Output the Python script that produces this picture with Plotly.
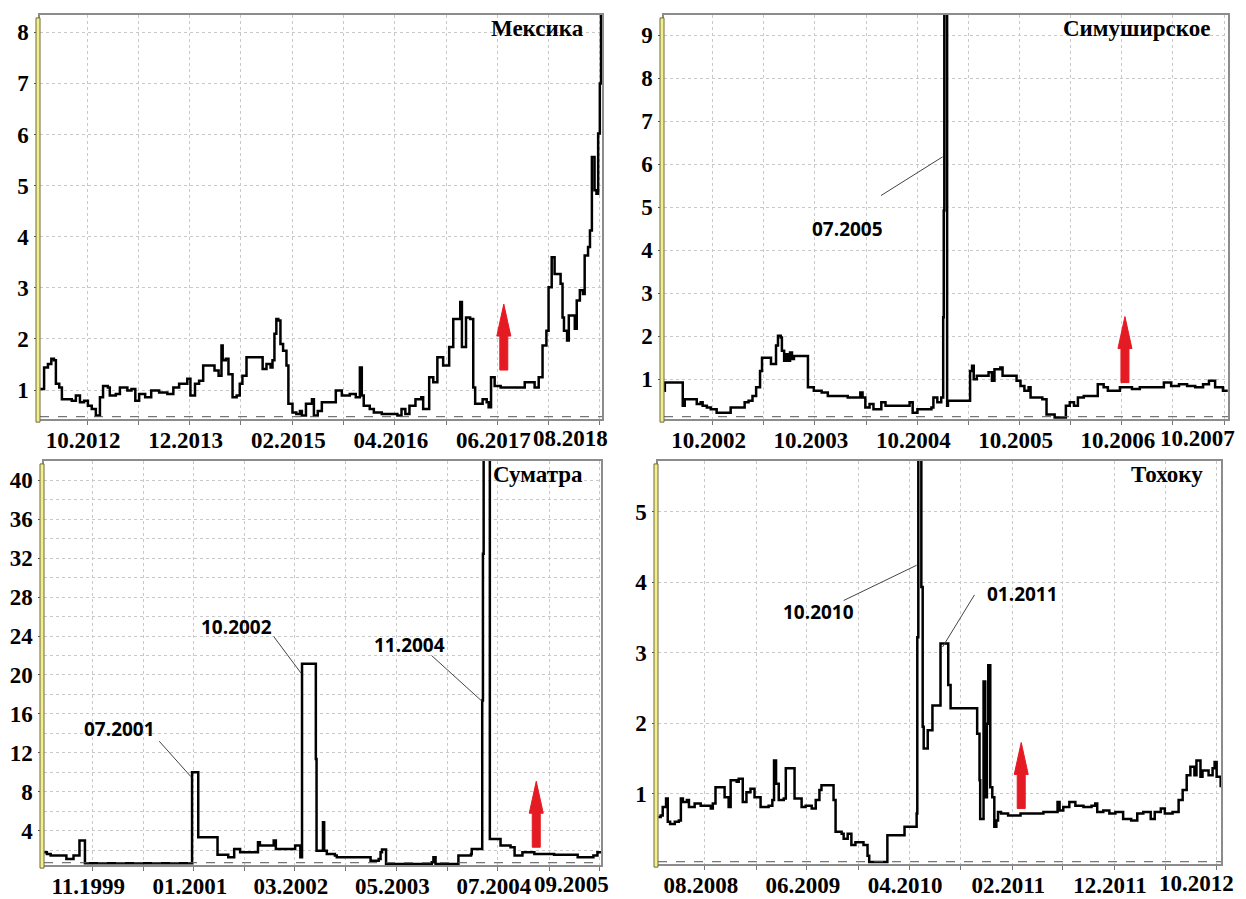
import plotly.graph_objects as go

W, H = 1246, 899

# ---------------- data: Мексика ----------------
mex_dates = ["2012-03-20","2012-04-05","2012-04-21","2012-05-05","2012-05-16","2012-05-24","2012-06-07","2012-06-18",
             "2012-07-13","2012-07-29","2012-08-15","2012-09-01","2012-09-18","2012-10-04","2012-10-20","2012-11-06",
             "2012-11-23","2012-12-06","2012-12-26","2013-01-03","2013-01-28","2013-02-14","2013-03-17","2013-04-03",
             "2013-04-19","2013-05-05","2013-05-30","2013-06-24","2013-07-27","2013-08-30","2013-09-24","2013-10-18",
             "2013-11-21","2013-12-04","2013-12-23","2014-01-09","2014-01-26","2014-02-28","2014-03-14","2014-03-31",
             "2014-04-12","2014-04-17","2014-04-30","2014-05-11","2014-05-28","2014-06-14","2014-06-27","2014-07-08",
             "2014-07-25","2014-09-13","2014-09-30","2014-10-16","2014-11-02","2014-11-10","2014-11-18","2014-11-26",
             "2014-12-04","2014-12-13","2014-12-24","2015-01-07","2015-01-15","2015-02-01","2015-02-17","2015-03-04",
             "2015-03-12","2015-03-29","2015-04-23","2015-05-01","2015-05-17","2015-06-03","2015-07-06","2015-07-31",
             "2015-08-25","2015-09-27","2015-10-22","2015-11-08","2015-11-16","2015-11-24","2015-12-19","2016-01-05",
             "2016-02-07","2016-03-10","2016-04-12","2016-04-29","2016-05-15","2016-06-01","2016-06-26","2016-07-20",
             "2016-07-28","2016-08-14","2016-08-22","2016-09-08","2016-09-25","2016-10-19","2016-11-05","2016-11-13",
             "2016-11-30","2016-12-24","2016-12-29","2017-01-05","2017-01-15","2017-01-22","2017-02-08","2017-02-21",
             "2017-03-01","2017-03-16","2017-04-01","2017-04-18","2017-04-26","2017-05-06","2017-05-21","2017-06-15",
             "2017-08-04","2017-09-23","2017-10-26","2017-11-03","2017-11-20","2017-12-06","2017-12-22","2017-12-31",
             "2018-01-13","2018-01-25","2018-02-11","2018-02-19","2018-02-27","2018-03-05","2018-03-18","2018-03-25",
             "2018-04-08","2018-04-19","2018-04-27","2018-05-10","2018-05-23","2018-05-30","2018-06-13","2018-06-21",
             "2018-06-29","2018-07-10","2018-07-18","2018-07-25","2018-08-01","2018-08-06"]
mex_vals = [1.02,1.44,1.51,1.61,1.58,1.12,1.05,0.82,
            0.82,0.79,0.89,0.76,0.79,0.69,0.63,0.50,
            0.86,1.08,1.05,0.89,0.92,1.05,0.99,1.02,
            0.79,0.92,0.86,0.99,0.95,0.92,1.05,1.12,
            1.22,0.89,1.12,1.18,1.48,1.48,1.38,1.28,
            1.87,1.58,1.61,1.31,0.86,0.89,1.12,1.28,
            1.64,1.64,1.41,1.51,1.44,1.58,2.10,2.39,
            2.36,1.90,1.77,1.48,0.73,0.56,0.53,0.59,
            0.50,0.73,0.82,0.50,0.59,0.76,0.76,0.99,
            0.89,0.92,0.86,1.44,0.89,0.69,0.63,0.56,
            0.53,0.53,0.50,0.63,0.53,0.69,0.82,0.86,
            0.63,0.63,1.25,1.15,1.64,1.48,1.48,1.84,
            2.39,2.39,2.72,1.84,1.84,2.42,2.39,1.05,
            0.73,0.73,0.82,0.76,0.66,1.25,1.08,1.05,
            1.05,1.15,1.15,1.05,1.25,1.87,2.16,3.01,
            3.60,3.27,3.27,3.08,2.42,2.16,1.97,2.46,
            2.46,2.20,2.75,2.95,2.88,3.63,3.80,4.12,
            5.56,4.91,4.84,6.02,7.00,8.44]
mex_xlabels = ["10.2012", "12.2013", "02.2015", "04.2016", "06.2017", "08.2018"]
mex_yticks = [1, 2, 3, 4, 5, 6, 7, 8]
mex_event = ("2017-06-28", 1.39)

# ---------------- data: Симуширское ----------------
sim_dates = ["2002-04-11","2002-04-13","2002-06-13","2002-06-16","2002-06-23","2002-07-28","2002-08-05","2002-08-19",
             "2002-08-26","2002-09-10","2002-09-24","2002-10-15","2002-11-27","2002-12-04","2003-01-16","2003-01-23",
             "2003-02-06","2003-02-20","2003-03-05","2003-03-19","2003-03-26","2003-04-24","2003-04-27","2003-05-08",
             "2003-05-15","2003-05-22","2003-06-01","2003-06-05","2003-06-13","2003-06-20","2003-06-27","2003-07-04",
             "2003-07-11","2003-07-18","2003-08-30","2003-09-06","2003-09-27","2003-10-25","2003-11-16","2004-01-19",
             "2004-01-26","2004-03-01","2004-03-11","2004-03-19","2004-03-29","2004-04-13","2004-04-27","2004-05-25",
             "2004-06-09","2004-08-05","2004-09-03","2004-09-14","2004-10-01","2004-11-20","2004-11-27","2004-12-11",
             "2004-12-25","2005-01-01","2005-01-03","2005-01-05","2005-01-15","2005-01-18","2005-01-30","2005-04-03",
             "2005-04-07","2005-04-14","2005-04-20","2005-05-01","2005-05-29","2005-06-12","2005-06-24","2005-07-03",
             "2005-07-17","2005-07-24","2005-08-01","2005-09-13","2005-09-20","2005-10-04","2005-10-18","2005-11-02",
             "2005-11-09","2005-12-21","2006-01-05","2006-02-03","2006-03-08","2006-03-15","2006-03-29","2006-04-13",
             "2006-04-27","2006-05-18","2006-06-09","2006-07-07","2006-07-28","2006-08-12","2006-09-10","2006-09-24",
             "2006-11-06","2006-12-04","2007-01-16","2007-02-28","2007-03-26","2007-04-23","2007-05-22","2007-06-20",
             "2007-07-18","2007-08-08","2007-08-30","2007-09-27","2007-10-14"]
sim_vals = [0.73,0.92,0.92,0.38,0.53,0.53,0.42,0.46,
            0.38,0.34,0.30,0.22,0.22,0.34,0.34,0.46,
            0.50,0.61,0.81,1.19,1.50,1.50,1.35,1.35,
            1.78,2.01,1.97,1.66,1.43,1.58,1.43,1.62,
            1.47,1.54,1.54,0.81,0.73,0.69,0.61,0.61,
            0.57,0.57,0.69,0.57,0.34,0.42,0.30,0.46,
            0.38,0.38,0.46,0.22,0.30,0.34,0.57,0.46,
            0.57,2.44,4.92,9.80,0.38,0.50,0.50,0.50,
            1.19,1.31,1.00,1.08,1.08,1.16,0.96,1.23,
            1.23,1.27,1.08,1.08,0.96,0.84,0.73,0.81,
            0.57,0.53,0.18,0.11,0.11,0.38,0.46,0.38,
            0.57,0.61,0.61,0.88,0.81,0.73,0.73,0.81,
            0.77,0.81,0.81,0.92,0.84,0.88,0.84,0.81,
            0.88,0.96,0.81,0.73,0.73]
sim_xlabels = ["10.2002", "10.2003", "10.2004", "10.2005", "10.2006", "10.2007"]
sim_yticks = [1, 2, 3, 4, 5, 6, 7, 8, 9]
sim_event = ("2006-10-12", 0.92)

# ---------------- data: Суматра ----------------
sum_dates = ["1999-04-13","1999-04-24","1999-05-10","1999-07-07","1999-07-15","1999-08-09","1999-08-14","1999-09-03",
             "1999-09-08","1999-09-25","1999-10-01","2000-12-19","2000-12-24","2001-01-14","2001-01-19","2001-04-05",
             "2001-04-10","2001-05-16","2001-05-25","2001-06-16","2001-06-19","2001-07-14","2001-09-10","2001-09-27",
             "2001-10-05","2001-11-16","2001-12-02","2001-12-11","2002-02-24","2002-03-02","2002-03-19","2002-03-24",
             "2002-03-31","2002-05-24","2002-05-28","2002-05-31","2002-06-22","2002-06-27","2002-07-02","2002-07-13",
             "2002-08-16","2002-08-24","2003-01-05","2003-01-13","2003-02-16","2003-02-24","2003-03-02","2003-03-19",
             "2003-09-27","2003-10-04","2003-10-13","2004-01-12","2004-01-17","2004-03-10","2004-03-13","2004-04-21",
             "2004-04-26","2004-04-29","2004-05-02","2004-05-23","2004-05-28","2004-07-04","2004-07-12","2004-08-23",
             "2004-09-09","2004-10-12","2004-12-01","2005-02-22","2005-06-01","2005-08-06","2005-08-23","2005-09-07"]
sum_vals = [1.77,1.60,1.43,1.43,1.09,1.09,1.43,1.43,
            2.97,2.97,0.64,0.64,10.0,10.0,3.31,3.31,
            1.53,1.53,1.26,1.26,2.11,1.77,1.77,2.80,
            2.46,2.46,2.97,2.11,2.11,2.46,2.46,1.26,
            21.14,21.14,11.37,1.94,1.94,4.86,1.94,1.60,
            1.43,1.26,1.26,0.91,1.09,1.77,2.06,0.57,
            0.74,1.26,0.57,0.57,1.43,1.60,2.11,2.11,
            17.37,32.45,43.0,43.0,3.14,3.14,2.46,2.29,
            1.43,1.77,1.60,1.53,1.26,1.43,1.77,1.77]
sum_xlabels = ["11.1999", "01.2001", "03.2002", "05.2003", "07.2004", "09.2005"]
sum_yticks = [4, 8, 12, 16, 20, 24, 28, 32, 36, 40]
sum_event = ("2004-12-09", 2.29)

# ---------------- data: Тохоку ----------------
toh_dates = ["2008-03-16","2008-03-23","2008-03-29","2008-04-08","2008-04-13","2008-04-20","2008-05-04","2008-05-16",
             "2008-05-22","2008-05-28","2008-06-09","2008-06-15","2008-07-02","2008-07-20","2008-08-07","2008-08-19",
             "2008-08-25","2008-09-02","2008-09-17","2008-09-29","2008-10-11","2008-10-17","2008-11-04","2008-11-10",
             "2008-11-22","2008-12-03","2008-12-15","2008-12-27","2009-01-14","2009-02-07","2009-02-18","2009-02-23",
             "2009-03-01","2009-03-09","2009-03-24","2009-03-30","2009-04-23","2009-04-25","2009-05-10","2009-05-16",
             "2009-05-28","2009-06-15","2009-06-27","2009-07-08","2009-07-14","2009-08-13","2009-08-19","2009-08-25",
             "2009-09-12","2009-09-18","2009-09-30","2009-10-11","2009-10-23","2009-11-10","2009-11-16","2009-11-28",
             "2009-12-03","2010-01-20","2010-01-26","2010-03-12","2010-03-18","2010-04-17","2010-04-23","2010-04-25",
             "2010-04-28","2010-05-05","2010-05-07","2010-05-11","2010-05-14","2010-05-22","2010-05-26","2010-06-07",
             "2010-06-09","2010-06-27","2010-07-03","2010-07-20","2010-07-26","2010-08-02","2010-10-15","2010-10-20",
             "2010-10-27","2010-10-29","2010-11-06","2010-11-08","2010-11-13","2010-11-18","2010-11-22","2010-11-28",
             "2010-12-04","2010-12-10","2010-12-16","2010-12-21","2010-12-30","2011-01-20","2011-02-02","2011-02-26",
             "2011-04-12","2011-05-05","2011-06-10","2011-06-16","2011-06-22","2011-07-03","2011-07-21","2011-08-08",
             "2011-09-01","2011-09-25","2011-10-06","2011-10-12","2011-10-30","2011-11-17","2011-12-05","2011-12-28",
             "2012-01-21","2012-02-08","2012-02-26","2012-03-08","2012-03-19","2012-03-31","2012-04-18","2012-04-30",
             "2012-05-23","2012-06-10","2012-06-22","2012-07-04","2012-07-15","2012-07-27","2012-08-02","2012-08-14",
             "2012-08-20","2012-09-07","2012-09-19","2012-09-25","2012-10-01","2012-10-13"]
toh_vals = [0.67,0.69,0.81,0.93,0.60,0.57,0.60,0.62,
            0.93,0.88,0.91,0.81,0.86,0.83,0.83,0.79,
            0.86,1.09,1.09,0.95,0.81,1.19,1.17,1.21,
            0.88,1.02,1.07,0.95,0.81,0.83,0.91,1.47,
            1.14,0.91,0.93,1.36,1.36,0.93,0.93,0.81,
            0.83,0.79,0.91,1.05,1.12,1.12,0.91,0.46,
            0.43,0.36,0.43,0.27,0.31,0.31,0.27,0.12,
            0.03,0.03,0.41,0.41,0.53,0.53,0.72,3.22,
            6.00,6.00,3.93,1.95,1.64,1.64,1.90,1.90,
            2.25,2.25,3.13,3.13,2.54,2.21,2.21,1.85,
            1.19,0.64,0.64,2.59,0.95,1.99,2.82,1.09,
            0.95,0.53,0.62,0.74,0.72,0.69,0.69,0.72,
            0.72,0.74,0.74,0.88,0.76,0.81,0.88,0.83,
            0.81,0.83,0.86,0.74,0.76,0.72,0.74,0.64,
            0.62,0.72,0.74,0.74,0.64,0.74,0.79,0.72,
            0.74,0.91,1.05,1.26,1.38,1.26,1.47,1.24,
            1.33,1.26,1.36,1.45,1.24,1.09]
toh_xlabels = ["08.2008", "06.2009", "04.2010", "02.2011", "12.2011", "10.2012"]
toh_yticks = [1, 2, 3, 4, 5]
toh_event = ("2011-02-28", 0.79)


def label_to_date(s):
    return f"{s[3:]}-{s[:2]}-01"


# ---------------- layout geometry / styling (pixels) ----------------
panels = [
    dict(name="Мексика", dates=mex_dates, vals=mex_vals, xl=mex_xlabels, yt=mex_yticks, ev=mex_event,
         box=(40, 602, 15, 421), xr=["2012-03-19", "2018-08-10"], yr=[0.43, 8.34],
         minor="M7", yminor=None, lastshift=10),
    dict(name="Симуширское", dates=sim_dates, vals=sim_vals, xl=sim_xlabels, yt=sim_yticks, ev=sim_event,
         box=(664, 1228, 15, 421), xr=["2002-04-10", "2007-10-15"], yr=[0.07, 9.47],
         minor="M6", yminor=None, lastshift=13),
    dict(name="Суматра", dates=sum_dates, vals=sum_vals, xl=sum_xlabels, yt=sum_yticks, ev=sum_event,
         box=(44, 601, 463, 869), xr=["1999-04-12", "2005-09-07"], yr=[0.45, 42.0],
         minor="M7", yminor=2, lastshift=11),
    dict(name="Тохоку", dates=toh_dates, vals=toh_vals, xl=toh_xlabels, yt=toh_yticks, ev=toh_event,
         box=(658, 1221, 463, 868), xr=["2008-03-15", "2012-10-14"], yr=[0.0, 5.72],
         minor="M5", yminor=None, lastshift=19),
]

serif = "Liberation Serif, Times New Roman, serif"
tick_font = dict(family=serif, size=23, color="black", weight="bold")
call_font = dict(family="Open Sans, Noto Sans, sans-serif", size=19, color="black", weight="bold")
grid_col = "#c9c9c9"

fig = go.Figure()
shapes, annotations = [], []
layout_axes = {}

for i, p in enumerate(panels, start=1):
    sfx = "" if i == 1 else str(i)
    xa, ya = f"x{sfx}", f"y{sfx}"
    l, r, t, b = p["box"]
    xdom = [l / W, r / W]
    ydom = [1 - b / H, 1 - t / H]

    fig.add_trace(go.Scatter(x=p["dates"], y=p["vals"], mode="lines",
                             line=dict(color="black", width=2.5, shape="hv"),
                             xaxis=xa, yaxis=ya, showlegend=False, hoverinfo="skip"))

    tickdates = [label_to_date(s) for s in p["xl"]]
    layout_axes[f"xaxis{sfx}"] = dict(
        type="date", domain=xdom, anchor=ya, range=p["xr"],
        tickvals=tickdates[:-1], ticktext=p["xl"][:-1],
        tickfont=tick_font, ticks="outside", ticklen=4, tickcolor="#777",
        ticklabelshift=-4, ticklabelstandoff=-4,
        showgrid=True, gridcolor=grid_col, griddash="dot", gridwidth=1,
        minor=dict(dtick=p["minor"], tick0=tickdates[0], showgrid=True, gridcolor=grid_col,
                   griddash="dot", gridwidth=1, ticks="outside", ticklen=4, tickcolor="#777"),
        showline=True, linecolor="#8c8c8c", linewidth=1.5, mirror=True, zeroline=False,
        fixedrange=True,
    )
    yax = dict(
        domain=ydom, anchor=xa, range=p["yr"], tickvals=p["yt"],
        tickfont=tick_font, ticks="outside", ticklen=4, tickcolor="#555",
        ticklabelstandoff=1,
        showgrid=True, gridcolor=grid_col, griddash="dot", gridwidth=1,
        showline=True, linecolor="#8c8c8c", linewidth=1.5, mirror=True, zeroline=False,
        fixedrange=True,
    )
    if p["yminor"]:
        yax["minor"] = dict(dtick=p["yminor"], tick0=0, showgrid=True, gridcolor=grid_col,
                            griddash="dot", gridwidth=1)
    layout_axes[f"yaxis{sfx}"] = yax

    # last x label (pushed inward to stay on the page, as in the original)
    annotations.append(dict(text=p["xl"][-1], x=tickdates[-1], xref=xa, y=0, yref=f"{ya} domain",
                            xanchor="right", yanchor="top", yshift=-5, xshift=p["lastshift"],
                            showarrow=False, font=tick_font))

    # panel title
    annotations.append(dict(text=p["name"], x=1, y=1, xref=f"{xa} domain", yref=f"{ya} domain",
                            xanchor="right", yanchor="top", xshift=-16, yshift=1, showarrow=False,
                            font=dict(family=serif, size=23, color="black", weight="bold")))

    # yellow "wall" strip on the left of the plotting area
    shapes.append(dict(type="rect", xref="paper", yref="paper",
                       x0=(l - 4) / W, x1=l / W, y0=1 - (b + 3) / H, y1=1 - (t + 3) / H,
                       fillcolor="#f4ef8e", line=dict(color="#6e6a3a", width=1), layer="above"))
    # floor dashed line
    shapes.append(dict(type="line", xref=f"{xa} domain", yref=f"{ya} domain", x0=0, x1=1, y0=0.006, y1=0.006,
                       line=dict(color="#555", width=1, dash="dash")))

    # red arrow marking the event
    ev_date, ev_val = p["ev"]
    shapes.append(dict(type="path", xref=xa, yref=ya, xsizemode="pixel", ysizemode="pixel",
                       xanchor=ev_date, yanchor=ev_val,
                       path="M-4,0 L4,0 L4,34 L7,34 L0,66 L-7,34 L-4,34 Z",
                       fillcolor="#e51b24", line=dict(color="#e51b24", width=1), layer="above"))

# ---------------- callouts ----------------
callouts = [
    # (panel axis suffix, text, text x, text y, line x0, y0, x1, y1)
    ("2", "07.2005", "2004-01-26", 4.50, "2004-05-24", 5.27, "2004-12-30", 6.17),
    ("3", "07.2001", "2000-02-25", 14.46, "2000-08-08", 13.19, "2000-12-19", 9.55),
    ("3", "10.2002", "2001-06-27", 24.91, "2001-12-02", 23.95, "2002-03-27", 20.18),
    ("3", "11.2004", "2003-06-26", 23.03, "2003-09-26", 22.0, "2004-04-25", 17.30),
    ("4", "10.2010", "2009-07-04", 3.57, "2009-09-18", 3.74, "2010-04-23", 4.24),
    ("4", "01.2011", "2011-03-04", 3.83, "2010-10-12", 3.82, "2010-07-09", 3.08),
]
for sfx, txt, tx, ty, lx0, ly0, lx1, ly1 in callouts:
    annotations.append(dict(text=txt, x=tx, y=ty, xref=f"x{sfx}", yref=f"y{sfx}",
                            xanchor="center", yanchor="middle", showarrow=False, font=call_font))
    shapes.append(dict(type="line", xref=f"x{sfx}", yref=f"y{sfx}", x0=lx0, y0=ly0, x1=lx1, y1=ly1,
                       line=dict(color="#444", width=1)))

fig.update_layout(
    width=W, height=H, autosize=False,
    margin=dict(l=0, r=0, t=0, b=0),
    paper_bgcolor="white", plot_bgcolor="white",
    showlegend=False,
    shapes=shapes, annotations=annotations,
    **layout_axes,
)

fig.write_html("out.html", config=dict(displayModeBar=False),
               post_script="document.body.style.margin='0';document.body.style.overflow='hidden';")
